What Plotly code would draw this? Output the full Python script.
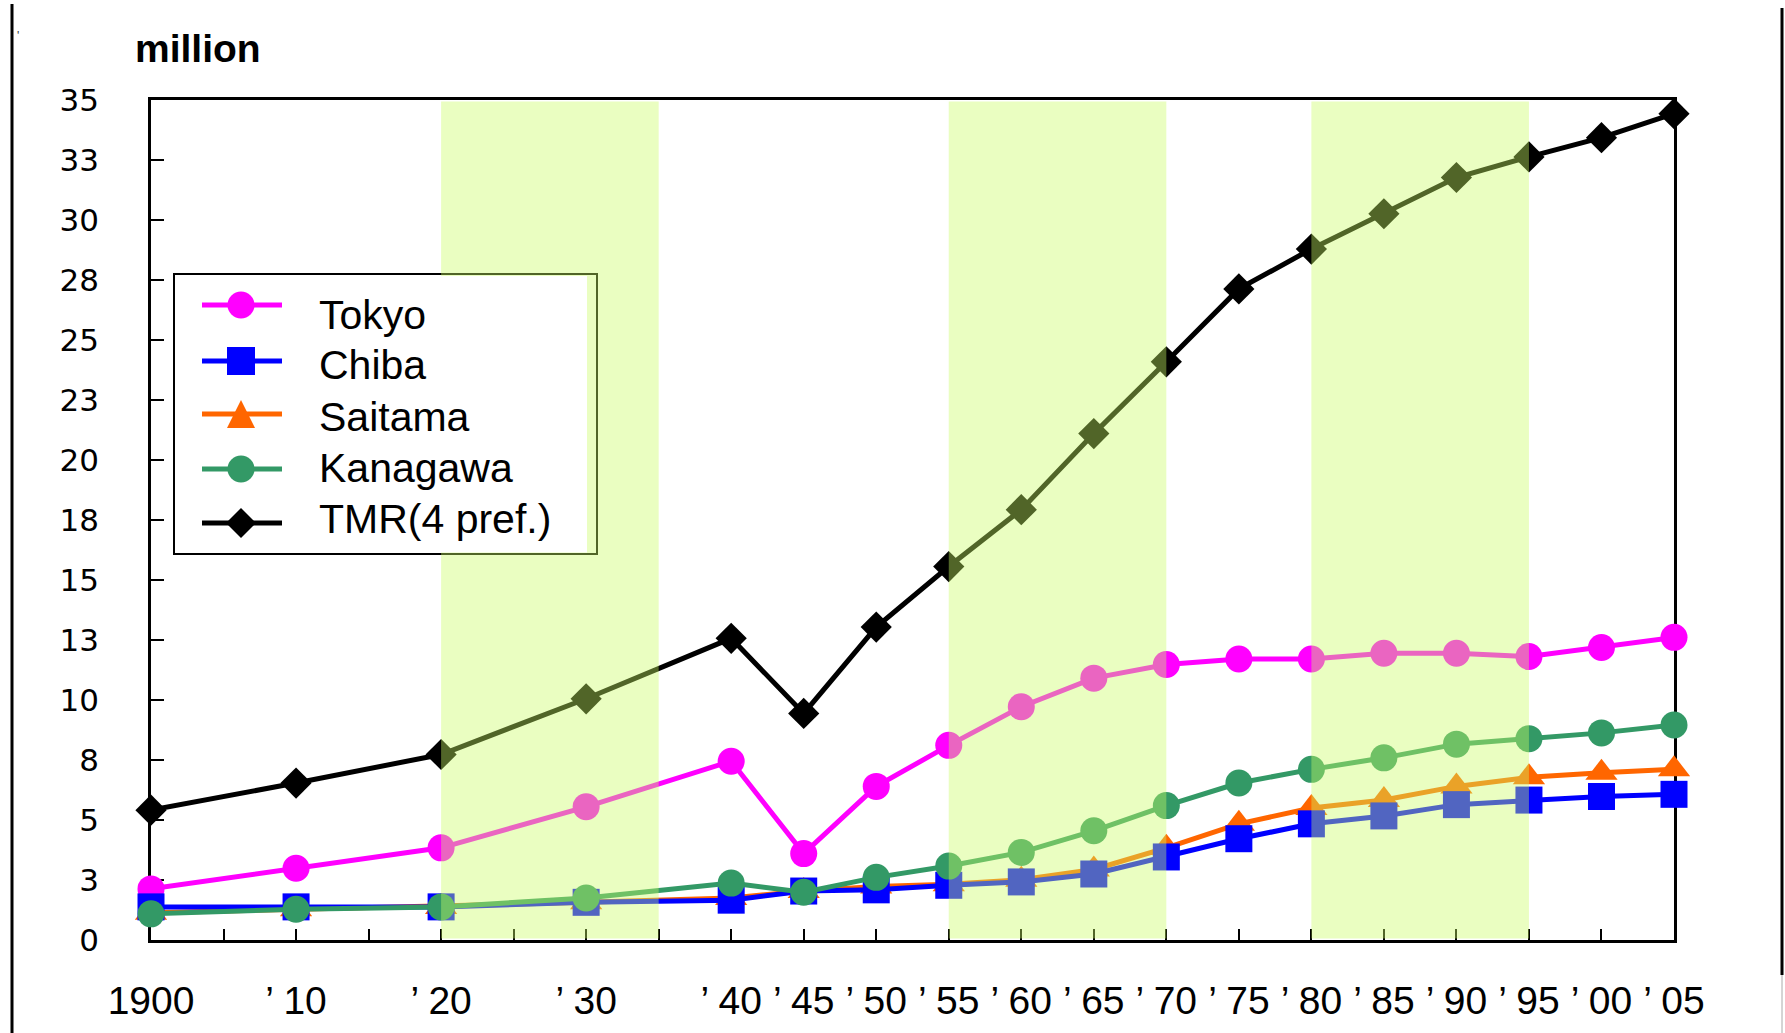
import plotly.graph_objects as go

# ---------------- data ----------------
years = [1900, 1910, 1920, 1930, 1940, 1945, 1950, 1955, 1960, 1965,
         1970, 1975, 1980, 1985, 1990, 1995, 2000, 2005]
tokyo = [2.13, 2.99, 3.84, 5.55, 7.45, 3.60, 6.40, 8.11, 9.72, 10.91,
         11.48, 11.71, 11.71, 11.95, 11.95, 11.81, 12.19, 12.61]
chiba = [1.38, 1.38, 1.38, 1.57, 1.66, 2.04, 2.09, 2.28, 2.42, 2.75,
         3.46, 4.22, 4.84, 5.17, 5.64, 5.83, 5.98, 6.07]
saitama = [1.14, 1.28, 1.38, 1.57, 1.75, 2.04, 2.23, 2.32, 2.51, 2.94,
           3.84, 4.84, 5.50, 5.83, 6.40, 6.78, 6.97, 7.11]
kanagawa = [1.09, 1.28, 1.38, 1.75, 2.37, 1.99, 2.61, 3.08, 3.65, 4.55,
            5.60, 6.54, 7.11, 7.59, 8.16, 8.39, 8.63, 8.96]
tmr = [5.41, 6.54, 7.73, 10.05, 12.57, 9.44, 13.04, 15.56, 17.93, 21.10,
       24.09, 27.13, 28.79, 30.26, 31.77, 32.63, 33.43, 34.43]

series_names = ["Tokyo", "Chiba", "Saitama", "Kanagawa", "TMR(4 pref.)"]

x_tick_years = [1900, 1910, 1920, 1930, 1940, 1945, 1950, 1955, 1960, 1965,
                1970, 1975, 1980, 1985, 1990, 1995, 2000, 2005]
x_tick_labels = ["1900", "’ 10", "’ 20", "’ 30", "’ 40", "’ 45", "’ 50", "’ 55",
                 "’ 60", "’ 65", "’ 70", "’ 75", "’ 80", "’ 85", "’ 90", "’ 95",
                 "’ 00", "’ 05"]
y_tick_vals = [0, 2.5, 5, 7.5, 10, 12.5, 15, 17.5, 20, 22.5, 25, 27.5, 30, 32.5, 35]
y_tick_labels = ["0", "3", "5", "8", "10", "13", "15", "18", "20", "23", "25",
                 "28", "30", "33", "35"]

shade_start = [1920, 1955, 1980]
shade_end = [1935, 1970, 1995]

# ---------------- layout geometry ----------------
W, H = 1785, 1033
ML, MR, MT, MB = 151, 111, 100, 93
PW, PH = W - ML - MR, H - MT - MB


def px(x):
    return (x - ML) / PW


def py(y):
    return (H - MB - y) / PH


colors = {
    "Tokyo": "#FF00FF",
    "Chiba": "#0000FF",
    "Saitama": "#FF6600",
    "Kanagawa": "#339966",
    "TMR(4 pref.)": "#000000",
}
symbols = {
    "Tokyo": ("circle", 27),
    "Chiba": ("square", 27),
    "Saitama": ("triangle-up", 28),
    "Kanagawa": ("circle", 27),
    "TMR(4 pref.)": ("diamond", 24),
}
values = {
    "Tokyo": tokyo,
    "Chiba": chiba,
    "Saitama": saitama,
    "Kanagawa": kanagawa,
    "TMR(4 pref.)": tmr,
}

fig = go.Figure()
for name in ["Tokyo", "Saitama", "Chiba", "Kanagawa", "TMR(4 pref.)"]:
    sym, size = symbols[name]
    fig.add_trace(go.Scatter(
        x=years, y=values[name], name=name, mode="lines+markers",
        line=dict(color=colors[name], width=5),
        marker=dict(symbol=sym, size=size, color=colors[name], line=dict(width=0)),
        cliponaxis=False, showlegend=False,
    ))

shapes = []
# legend frame (below, so shading tints its right part)
shapes.append(dict(type="rect", xref="paper", yref="paper", layer="below",
                   x0=px(174), x1=px(597), y0=py(554), y1=py(274),
                   fillcolor="white", line=dict(color="black", width=2)))
# shaded periods (semi-transparent, drawn over the lines)
for s, e in zip(shade_start, shade_end):
    shapes.append(dict(type="rect", xref="x", yref="y", layer="above",
                       x0=s, x1=e, y0=0.06, y1=34.94,
                       fillcolor="rgb(202,252,100)", opacity=0.4,
                       line=dict(width=0)))
# white text area of the legend
shapes.append(dict(type="rect", xref="paper", yref="paper", layer="above",
                   x0=px(298), x1=px(587), y0=py(552.5), y1=py(276),
                   fillcolor="white", line=dict(width=0)))

# legend samples
legend_marker_y = [305, 361, 414, 469, 523]
legend_text_y = [315, 365, 417, 468, 519]
for name, yc in zip(series_names, legend_marker_y):
    c = colors[name]
    shapes.append(dict(type="line", xref="paper", yref="paper", layer="above",
                       x0=px(202), x1=px(282), y0=py(yc), y1=py(yc),
                       line=dict(color=c, width=5)))
    common = dict(xref="paper", yref="paper", layer="above",
                  xsizemode="pixel", ysizemode="pixel",
                  xanchor=px(241), yanchor=py(yc),
                  fillcolor=c, line=dict(width=0))
    sym = symbols[name][0]
    if sym == "circle":
        shapes.append(dict(type="circle", x0=-13.5, x1=13.5, y0=-13.5, y1=13.5, **common))
    elif sym == "square":
        shapes.append(dict(type="rect", x0=-14, x1=14, y0=-14, y1=14, **common))
    elif sym == "triangle-up":
        shapes.append(dict(type="path", path="M -14,-14 L 14,-14 L 0,14 Z", **common))
    else:
        shapes.append(dict(type="path", path="M 0,15 L 15,0 L 0,-15 L -15,0 Z", **common))

# page frame lines
shapes.append(dict(type="line", xref="paper", yref="paper", layer="above",
                   x0=px(12), x1=px(12), y0=py(4), y1=py(1033),
                   line=dict(color="black", width=3)))
shapes.append(dict(type="line", xref="paper", yref="paper", layer="above",
                   x0=px(1782), x1=px(1782), y0=py(8), y1=py(975),
                   line=dict(color="black", width=3)))
shapes.append(dict(type="line", xref="paper", yref="paper", layer="above",
                   x0=px(1782), x1=px(1782), y0=py(975), y1=py(1033),
                   line=dict(color="#aaaaaa", width=1)))

annotations = []
for name, yt in zip(series_names, legend_text_y):
    annotations.append(dict(xref="paper", yref="paper", x=px(317), y=py(yt),
                            xanchor="left", yanchor="middle", showarrow=False,
                            text=name,
                            font=dict(family="Liberation Sans, Arial, sans-serif",
                                      size=41, color="black")))
annotations.append(dict(xref="paper", yref="paper", x=px(133), y=py(49),
                        xanchor="left", yanchor="middle", showarrow=False,
                        text="<b>million</b>",
                        font=dict(family="Liberation Sans, Arial, sans-serif",
                                  size=39, color="black")))
annotations.append(dict(xref="paper", yref="paper", x=px(18), y=py(36),
                        xanchor="center", yanchor="middle", showarrow=False,
                        text="'", font=dict(family="Liberation Sans, Arial, sans-serif",
                                            size=12, color="#333333")))

fig.update_layout(
    width=W, height=H, autosize=False,
    margin=dict(l=ML, r=MR, t=MT, b=MB, pad=0),
    paper_bgcolor="white", plot_bgcolor="white",
    showlegend=False,
    shapes=shapes, annotations=annotations,
    xaxis=dict(
        range=[1900, 2005], tickmode="array", tickvals=x_tick_years,
        ticktext=x_tick_labels, tickangle=0,
        ticks="inside", ticklen=11, tickwidth=2, tickcolor="black",
        minor=dict(ticks="inside", ticklen=11, tickwidth=2, tickcolor="black",
                   dtick=5, tick0=1900, showgrid=False),
        showline=True, linecolor="black", linewidth=2.5, mirror=True,
        showgrid=False, zeroline=False, layer="below traces",
        tickfont=dict(family="Liberation Sans Narrow, Arial Narrow, Liberation Sans, sans-serif",
                      size=39, color="black"),
        ticklabelstandoff=24,
    ),
    yaxis=dict(
        range=[0, 35], tickmode="array", tickvals=y_tick_vals, ticktext=y_tick_labels,
        ticks="inside", ticklen=13, tickwidth=2, tickcolor="black",
        showline=True, linecolor="black", linewidth=2.5, mirror=True,
        showgrid=False, zeroline=False, layer="below traces",
        tickfont=dict(family="DejaVu Sans, sans-serif", size=31, color="black"),
        ticklabelstandoff=43,
    ),
)

fig.write_html(
    "out.html",
    config={"displayModeBar": False},
    post_script="document.body.style.margin='0px';document.body.style.overflow='hidden';",
)
